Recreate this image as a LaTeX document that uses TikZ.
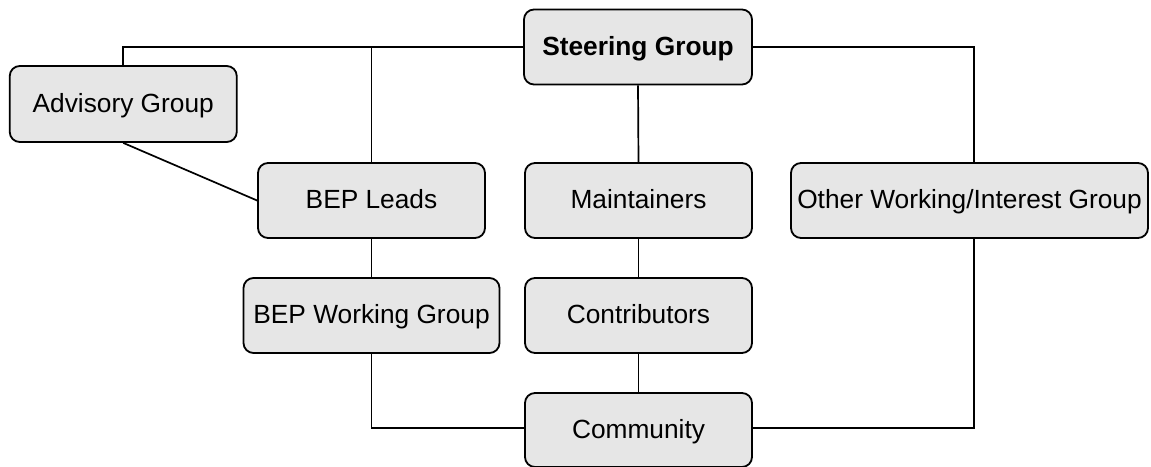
\documentclass[tikz,border=0pt]{standalone}
\usepackage{fontspec}
\setmainfont{Liberation Sans}
\begin{document}
\begin{tikzpicture}[x=1pt,y=-1pt,
  box/.style={draw=black, fill=boxgray, line width=1.8pt, rounded corners=10pt,
    minimum height=75pt, inner sep=0pt, text height=21pt, text depth=5pt,
    font=\fontsize{26.3}{30}\selectfont},
  link/.style={line width=1.7pt, draw=black}]
\definecolor{boxgray}{HTML}{E6E6E6}
\useasboundingbox (0,0) rectangle (1151,466);
\node[box, minimum width=228pt, font=\fontsize{26.3}{30}\selectfont\bfseries] (steer) at (638,47) {Steering Group};
\node[box, minimum width=227pt, minimum height=76pt] (adv) at (123.25,104) {Advisory Group};
\node[box, minimum width=227pt] (leads) at (371.5,200.5) {BEP Leads};
\node[box, minimum width=227pt] (maint) at (638.5,200.5) {Maintainers};
\node[box, minimum width=357pt] (other) at (969.5,200.5) {Other Working/Interest Group};
\node[box, minimum width=256pt] (bepwg) at (371.5,315.5) {BEP Working Group};
\node[box, minimum width=227pt] (contr) at (638.5,315.5) {Contributors};
\node[box, minimum width=227pt, minimum height=74pt] (comm) at (638.5,430) {Community};
\draw[link] (steer.west) -| (adv.north);
\draw[link] (leads.north) |- (steer.west);
\draw[link] ([xshift=4.5pt]other.north) |- (steer.east);
\draw[link] (steer.south) -- (maint.north);
\draw[link] (maint.south) -- (contr.north);
\draw[link] (contr.south) -- (comm.north);
\draw[link] (adv.south) -- (leads.west);
\draw[link] (leads.south) -- (bepwg.north);
\draw[link] (bepwg.south) |- ([yshift=2pt]comm.west);
\draw[link] ([xshift=4.5pt]other.south) |- ([yshift=2pt]comm.east);
\end{tikzpicture}
\end{document}
